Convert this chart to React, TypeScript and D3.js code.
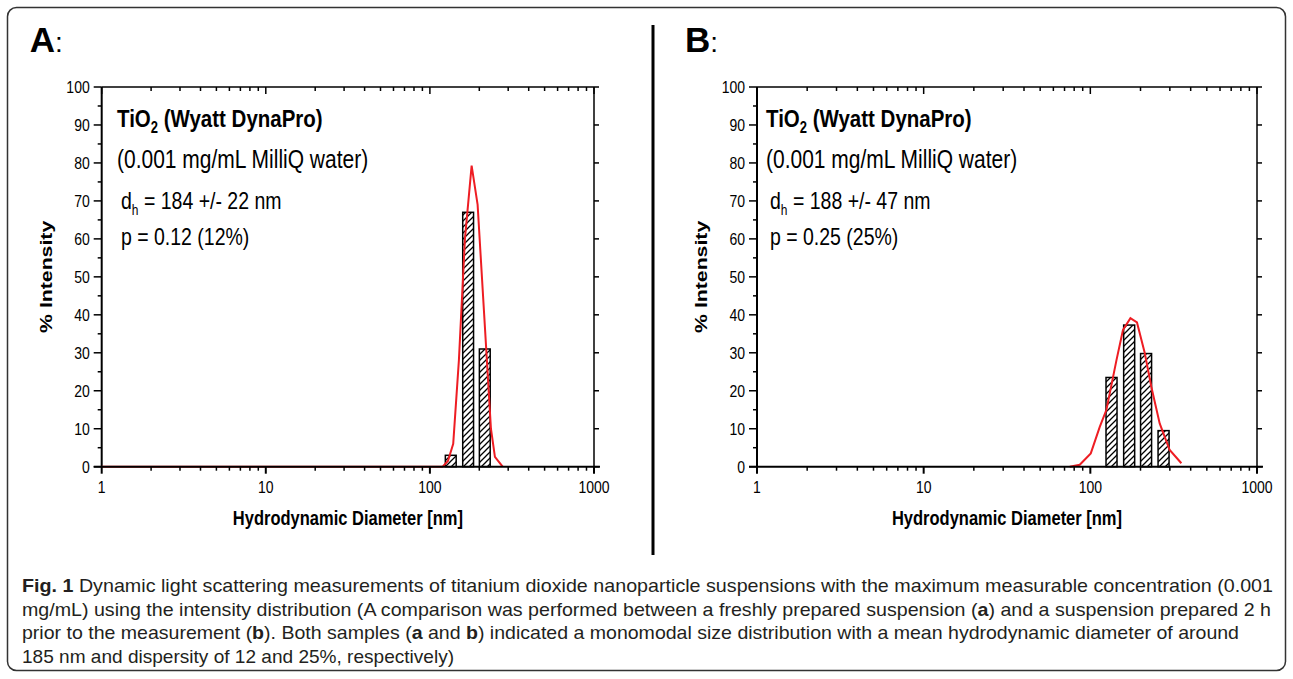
import React from 'react';
import * as d3 from 'd3';

// histogram bins (nm) shared by both measurements
const binCenters = [134, 171, 216, 275];
const barsA = [3, 67, 31];
const barsB = [23.5, 37.3, 29.8, 9.5];

// fitted intensity curves (red)
const curveADiam = [1, 119.5, 128.8, 138.7, 150.2, 163.5, 179.6, 195.3, 214.2, 235.5, 249, 277.5];
const curveAInt = [0, 0, 1.5, 6, 28, 60, 79.3, 69, 40, 10, 2.6, 0];
const curveBDiam = [75.2, 86.4, 100.6, 113.9, 124.9, 143.4, 157, 174, 190.5, 211.9, 232.4, 260.7, 299.3, 351.7];
const curveBInt = [0, 0.5, 3.5, 10.5, 15, 28, 36, 39.1, 38, 30, 21, 11.4, 4.4, 0.9];

const xTicks = [1, 10, 100, 1000];
const yTicks = [0, 10, 20, 30, 40, 50, 60, 70, 80, 90, 100];

const textA = ['(0.001 mg/mL MilliQ water)', '184 +/- 22 nm', 'p = 0.12 (12%)'];
const textB = ['(0.001 mg/mL MilliQ water)', '188 +/- 47 nm', 'p = 0.25 (25%)'];

const FONT = 'Arial, "Liberation Sans", Helvetica, sans-serif';
const SY = 1.2; // the original figure is a little stretched vertically

const tr = (x: number, y: number) => `translate(${x},${y}) scale(1,${SY})`;

type PanelProps = {
  label: string;
  left: number;
  right: number;
  textX: number;
  bars: number[];
  curveD: number[];
  curveI: number[];
  notes: string[];
};

const Panel = ({ label, left, right, textX, bars, curveD, curveI, notes }: PanelProps) => {
  const top = 87;
  const bottom = 466.7;
  const x = d3.scaleLog().domain([1, 1000]).range([left, right]);
  const y = d3.scaleLinear().domain([0, 100]).range([bottom, top]);

  const minor: number[] = [];
  [1, 10, 100].forEach(dec => {
    for (let k = 2; k <= 9; k++) minor.push(dec * k);
  });
  const yMinor = d3.range(5, 100, 10);

  const line = d3.line<number>()
    .x((_, i) => x(curveD[i]))
    .y(d => y(d));

  const halfW = 1.079; // bar half-width as a log ratio
  const midX = (left + right) / 2;

  return (
    <g>
      <text x={left - 72} y={52} fontFamily={FONT} fontSize={35}>
        <tspan fontWeight="bold">{label}</tspan>
        <tspan fontSize={28}>:</tspan>
      </text>

      {/* bars */}
      {bars.map((v, i) => (
        <rect key={i}
          x={x(binCenters[i] / halfW)}
          y={y(v)}
          width={x(binCenters[i] * halfW) - x(binCenters[i] / halfW)}
          height={bottom - y(v)}
          fill="url(#hatch)" stroke="#000" strokeWidth={1.5} />
      ))}

      {/* frame */}
      <line x1={left} x2={right} y1={top} y2={top} stroke="#000" strokeWidth={1.5} />
      <line x1={right} x2={right} y1={top} y2={bottom} stroke="#000" strokeWidth={1.5} />
      <line x1={left} x2={left} y1={top} y2={bottom} stroke="#000" strokeWidth={2} />

      {/* red fit */}
      <path d={line(curveI) || ''} fill="none" stroke="#ee1d23" strokeWidth={2} />

      <line x1={left - 8} x2={right + 6} y1={bottom} y2={bottom} stroke="#000" strokeWidth={2} />

      {/* x ticks bottom + top */}
      {xTicks.map(t => (
        <g key={'xt' + t}>
          <line x1={x(t)} x2={x(t)} y1={bottom} y2={bottom + 7} stroke="#000" strokeWidth={2} />
          <line x1={x(t)} x2={x(t)} y1={top} y2={top + 7} stroke="#000" strokeWidth={1.5} />
          <text transform={tr(x(t), 493)} textAnchor="middle" fontFamily={FONT} fontSize={14}>{t}</text>
        </g>
      ))}
      {minor.map(t => (
        <g key={'xm' + t}>
          <line x1={x(t)} x2={x(t)} y1={bottom} y2={bottom + 4} stroke="#000" strokeWidth={1.5} />
          <line x1={x(t)} x2={x(t)} y1={top} y2={top + 4} stroke="#000" strokeWidth={1.5} />
        </g>
      ))}

      {/* y ticks */}
      {yTicks.map(t => (
        <g key={'yt' + t}>
          <line x1={left - 8} x2={left} y1={y(t)} y2={y(t)} stroke="#000" strokeWidth={1.5} />
          <line x1={right} x2={right + 5} y1={y(t)} y2={y(t)} stroke="#000" strokeWidth={1.5} />
          <text transform={tr(left - 12, y(t) + 6)} textAnchor="end" fontFamily={FONT} fontSize={14}>{t}</text>
        </g>
      ))}
      {yMinor.map(t => (
        <line key={'ym' + t} x1={left - 4} x2={left} y1={y(t)} y2={y(t)} stroke="#000" strokeWidth={1.5} />
      ))}

      {/* axis titles */}
      <text transform={`translate(${left - 50},${(top + bottom) / 2}) rotate(-90) scale(1.25,1)`}
        textAnchor="middle" fontFamily={FONT} fontSize={17} fontWeight="bold">% Intensity</text>
      <text transform={tr(midX, 525)} textAnchor="middle" fontFamily={FONT} fontSize={16.5} fontWeight="bold">
        Hydrodynamic Diameter [nm]
      </text>

      {/* annotations */}
      <text transform={tr(textX, 127)} fontFamily={FONT} fontSize={20.5} fontWeight="bold">
        TiO<tspan fontSize={13} dy={5}>2</tspan><tspan dy={-5}> (Wyatt DynaPro)</tspan>
      </text>
      <text transform={tr(textX, 168)} fontFamily={FONT} fontSize={21}>{notes[0]}</text>
      <text transform={tr(textX + 4, 209)} fontFamily={FONT} fontSize={19.5}>
        d<tspan fontSize={12} dy={5}>h</tspan><tspan dy={-5}> = {notes[1]}</tspan>
      </text>
      <text transform={tr(textX + 4, 245)} fontFamily={FONT} fontSize={19.5}>{notes[2]}</text>
    </g>
  );
};

const CAP = '"Liberation Sans Narrow", "Liberation Sans", Arial, sans-serif';

const App = () => {
  const W = 1293;
  const H = 679;
  return (
    <svg width={W} height={H} style={{ position: 'absolute', left: 0, top: 0, background: '#fff' }}>
      <defs>
        <pattern id="hatch" patternUnits="userSpaceOnUse" width={6} height={6}>
          <rect width={6} height={6} fill="#fff" />
          <path d="M-1,1 L1,-1 M0,6 L6,0 M5,7 L7,5" stroke="#000" strokeWidth={1.3} />
        </pattern>
      </defs>

      <rect x={7.5} y={7.5} width={1278} height={663} rx={9} fill="none" stroke="#333" strokeWidth={1.5} />

      <Panel label="A" left={101.7} right={594} textX={117} bars={barsA}
        curveD={curveADiam} curveI={curveAInt} notes={textA} />
      <Panel label="B" left={757} right={1257} textX={766} bars={barsB}
        curveD={curveBDiam} curveI={curveBInt} notes={textB} />

      <line x1={653} x2={653} y1={25} y2={555} stroke="#000" strokeWidth={3} />

      <g fontFamily={CAP} fontSize={19} fill="#231f20">
        <text x={22} y={592} textLength={1251} lengthAdjust="spacingAndGlyphs">
          <tspan fontWeight="bold">Fig. 1</tspan> Dynamic light scattering measurements of titanium dioxide nanoparticle suspensions with the maximum measurable concentration (0.001
        </text>
        <text x={22} y={615.5} textLength={1249} lengthAdjust="spacingAndGlyphs">
          mg/mL) using the intensity distribution (A comparison was performed between a freshly prepared suspension (<tspan fontWeight="bold">a</tspan>) and a suspension prepared 2 h
        </text>
        <text x={22} y={639} textLength={1217} lengthAdjust="spacingAndGlyphs">
          prior to the measurement (<tspan fontWeight="bold">b</tspan>). Both samples (<tspan fontWeight="bold">a</tspan> and <tspan fontWeight="bold">b</tspan>) indicated a monomodal size distribution with a mean hydrodynamic diameter of around
        </text>
        <text x={22} y={662.5} textLength={432} lengthAdjust="spacingAndGlyphs">
          185 nm and dispersity of 12 and 25%, respectively)
        </text>
      </g>
    </svg>
  );
};

export default App;
